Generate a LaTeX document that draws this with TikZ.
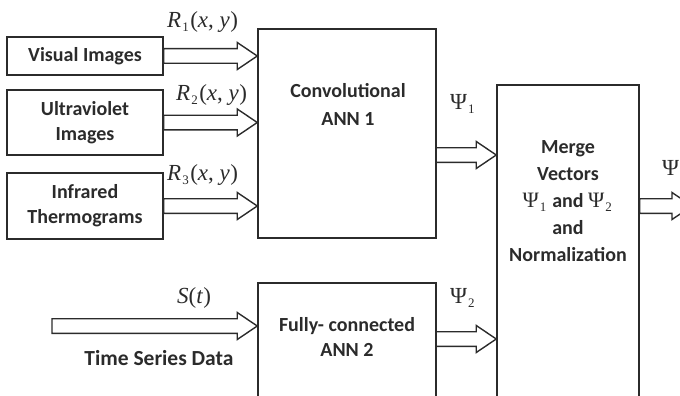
\documentclass[tikz,border=0pt]{standalone}
\usepackage{fontspec}
\setmainfont{Carlito}
\newfontfamily\tms{Liberation Serif}
\usetikzlibrary{calc}
\definecolor{ink}{HTML}{2B2B2B}
\tikzset{
 box/.style={draw=ink, line width=1.5pt, inner sep=0pt},
 lbl/.style={text=ink, font=\fontsize{20}{25}\selectfont\bfseries, align=center, inner sep=0pt},
 mth/.style={text=ink, font=\tms\fontsize{23}{24}\selectfont, inner sep=0pt, anchor=base west},
 fat/.style={draw=ink, line width=1.4pt, line join=miter},
}
\newcommand{\fatarrow}[2]{\draw[fat] let \p1=(#1), \p2=(#2) in (\x1,\y1+7.3pt) -- (\x2-20pt,\y1+7.3pt) -- (\x2-20pt,\y1+13.5pt) -- (\x2,\y1) -- (\x2-20pt,\y1-13.5pt) -- (\x2-20pt,\y1-7.3pt) -- (\x1,\y1-7.3pt) -- cycle;}
\newcommand{\mysub}[1]{\kern1pt\raisebox{-4pt}{\fontsize{13}{13}\selectfont #1}\kern1.5pt}
\newcommand{\mypsi}[1]{{\tms\mdseries\fontsize{22}{22}\selectfont \char"03A8\mysub{#1}}}
\begin{document}
\begin{tikzpicture}[x=1pt,y=-1pt]
\useasboundingbox (0,0) rectangle (680,396);
\clip (0,0) rectangle (680,396);
% boxes
\node[box, minimum width=156pt, minimum height=38pt] (vis) at (85,56) {};
\node[box, minimum width=156pt, minimum height=65pt] (uv) at (85,122.5) {};
\node[box, minimum width=156pt, minimum height=66pt] (ir) at (85,206) {};
\node[box, minimum width=178pt, minimum height=209pt] (conv) at (347,133.5) {};
\node[box, minimum width=178pt, minimum height=137pt] (fc) at (347,351.5) {};
\node[box, minimum width=142pt, minimum height=335pt] (merge) at (568,252.5) {};
% box texts
\node[lbl] (vist) at (vis.center) {Visual Images};
\node[lbl] (uvt) at (uv.center) {Ultraviolet\\Images};
\node[lbl] (irt) at (ir.center) {Infrared\\Thermograms};
\node[lbl, font=\fontsize{20}{28}\selectfont\bfseries] (convt) at (348,104) {Convolutional\\ANN 1};
\node[lbl] (fct) at (347,337) {Fully- connected\\ANN 2};
\node[lbl, font=\fontsize{20}{27}\selectfont\bfseries] (mergt) at (568,201) {Merge\\Vectors\\\mypsi{1} and \mypsi{2}\\and\\Normalization};
\node[lbl, font=\fontsize{21.5}{25}\selectfont\bfseries] (tsd) at (159,358) {Time Series Data};
% coordinates
\coordinate (ts) at (52,326);
\coordinate (a1) at (436,155);
\coordinate (a2) at (436,339);
\coordinate (out) at (692,206);
% arrows
\fatarrow{vis.east}{conv.west |- vis.east}
\fatarrow{uv.east}{conv.west |- uv.east}
\fatarrow{ir.east}{conv.west |- ir.east}
\fatarrow{ts}{fc.west |- ts}
\fatarrow{a1}{merge.west |- a1}
\fatarrow{a2}{merge.west |- a2}
\fatarrow{merge.east |- out}{out}
% math labels
\node[mth] (r1) at (167,28) {\itshape R\upshape\mysub{1}(\itshape x\upshape, \itshape y\upshape\kern0.5pt)};
\node[mth] (r2) at (176,100) {\itshape R\upshape\mysub{2}(\itshape x\upshape, \itshape y\upshape\kern0.5pt)};
\node[mth] (r3) at (167,180) {\itshape R\upshape\mysub{3}(\itshape x\upshape, \itshape y\upshape\kern0.5pt)};
\node[mth] (st) at (177,303) {\itshape S\upshape(\itshape t\upshape\kern0.5pt)};
\node[mth] (p1) at (450,110) {\char"03A8\mysub{1}};
\node[mth] (p2) at (450,303) {\char"03A8\mysub{2}};
\node[mth] (p) at (662,175) {\char"03A8};
\end{tikzpicture}
\end{document}
